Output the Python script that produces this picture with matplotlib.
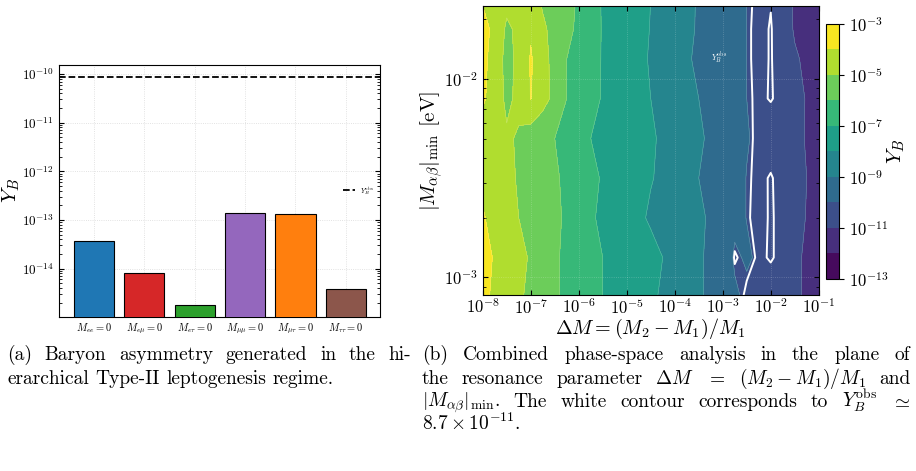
import numpy as np
import matplotlib
matplotlib.use('Agg')
import matplotlib.pyplot as plt

plt.rcParams.update({
    'font.family': 'serif',
    'font.serif': ['cmr10', 'DejaVu Serif'],
    'mathtext.fontset': 'cm',
    'axes.formatter.use_mathtext': True,
    'axes.unicode_minus': False,
})

# (a) bar chart values
bar_labels = [r'$M_{ee}=0$', r'$M_{e\mu}=0$', r'$M_{e\tau}=0$',
              r'$M_{\mu\mu}=0$', r'$M_{\mu\tau}=0$', r'$M_{\tau\tau}=0$']
yb_values = [3.75e-14, 8.3e-15, 1.78e-15, 1.37e-13, 1.33e-13, 3.8e-15]
bar_colors = ['#1f77b4', '#d62728', '#2ca02c', '#9467bd', '#ff7f0e', '#8c564b']
yb_obs = 8.7e-11

# (b) contour map: log10(Y_B)
dm_exp = [-8.0, -7.75, -7.5, -7.25, -7.0, -6.75, -6.5, -6.25, -6.0, -5.75,
          -5.5, -5.25, -5.0, -4.75, -4.5, -4.25, -4.0, -3.75, -3.5, -3.25,
          -3.0, -2.75, -2.5, -2.25, -2.0, -1.75, -1.5, -1.25, -1.0]
m_exp = [-3.1, -2.9, -2.7, -2.5, -2.3, -2.1, -1.9, -1.75, -1.6]
logyb = [
    [-3.8, -4.2, -4.5, -4.9, -5.2, -5.6, -5.9, -6.2, -6.5, -6.8, -7.0, -7.2, -7.4, -7.6, -7.9,
     -8.1, -8.35, -8.6, -8.9, -9.2, -9.6, -9.9, -10.15, -10.2, -10.4, -10.6, -10.85, -11.15, -11.3],
    [-3.7, -4.1, -4.6, -4.8, -5.1, -5.5, -5.9, -6.2, -6.5, -6.8, -7.0, -7.2, -7.4, -7.6, -7.8,
     -8.0, -8.3, -8.6, -8.9, -9.2, -9.6, -10.1, -9.9, -10.15, -10.0, -10.3, -10.85, -11.15, -11.3],
    [-3.9, -4.5, -4.7, -5.0, -5.3, -5.5, -5.8, -6.2, -6.5, -6.9, -7.2, -7.4, -7.7, -7.9, -8.1,
     -8.3, -8.5, -8.7, -8.9, -9.1, -9.4, -9.8, -10.02, -10.2, -10.0, -10.3, -10.7, -11.05, -11.25],
    [-4.3, -4.6, -4.8, -5.1, -5.3, -5.6, -5.9, -6.2, -6.5, -6.8, -7.1, -7.3, -7.5, -7.7, -7.95,
     -8.2, -8.4, -8.7, -9.0, -9.2, -9.5, -9.8, -10.02, -10.15, -10.02, -10.3, -10.8, -11.0, -11.2],
    [-4.3, -4.6, -4.85, -5.15, -5.45, -5.7, -6.0, -6.35, -6.65, -7.0, -7.15, -7.3, -7.5, -7.7, -7.9,
     -8.15, -8.4, -8.65, -8.9, -9.15, -9.45, -9.7, -9.95, -10.2, -10.4, -10.6, -10.85, -11.05, -11.3],
    [-3.9, -4.4, -5.3, -4.6, -3.97, -4.6, -5.4, -6.0, -6.3, -6.7, -7.1, -7.3, -7.5, -7.8, -8.0,
     -8.2, -8.45, -8.8, -9.0, -9.3, -9.5, -9.8, -10.0, -10.15, -10.02, -10.3, -10.6, -11.1, -11.3],
    [-3.8, -4.4, -5.4, -4.6, -3.93, -4.6, -5.5, -6.0, -6.2, -6.6, -7.1, -7.3, -7.5, -7.8, -8.1,
     -8.3, -8.5, -8.9, -9.2, -9.3, -9.5, -9.8, -10.0, -10.2, -10.02, -10.5, -10.9, -11.2, -11.3],
    [-3.7, -4.3, -5.2, -4.7, -4.1, -4.8, -5.5, -5.9, -6.1, -6.5, -7.1, -7.3, -7.5, -7.7, -8.05,
     -8.3, -8.5, -8.85, -9.1, -9.3, -9.5, -9.8, -10.0, -10.2, -10.02, -10.6, -11.1, -11.2, -11.4],
    [-4.1, -4.3, -4.6, -5.1, -4.5, -5.2, -5.5, -5.8, -6.1, -6.6, -7.1, -7.2, -7.4, -7.6, -8.0,
     -8.2, -8.4, -8.8, -9.1, -9.2, -9.5, -9.8, -10.0, -10.15, -10.1, -10.7, -11.1, -11.3, -11.5],
]
cbar_levels = [-13, -12, -11, -10, -9, -8, -7, -6, -5, -4, -3]
cbar_ticks = [-13, -11, -9, -7, -5, -3]
dm_ticks = [1e-8, 1e-7, 1e-6, 1e-5, 1e-4, 1e-3, 1e-2, 1e-1]

W, H = 916, 471
fig = plt.figure(figsize=(W / 100, H / 100), dpi=100)

# ---- (a) bars
ax1 = fig.add_axes([0.064, 0.3276, 0.351, 0.535])
ax1.bar(range(len(yb_values)), yb_values, width=0.8, color=bar_colors,
        edgecolor='black', linewidth=0.8, zorder=3)
ax1.axhline(yb_obs, color='black', ls='--', lw=1.3, label=r'$Y_B^{\rm obs}$', zorder=4)
ax1.set_yscale('log')
ax1.set_ylim(1.03e-15, 1.55e-10)
ax1.set_xlim(-0.7, 5.68)
ax1.set_xticks(range(len(bar_labels)))
ax1.set_xticklabels(bar_labels, fontsize=7.5)
ax1.set_ylabel(r'$Y_B$', fontsize=15)
ax1.yaxis.set_label_coords(-0.114, 0.5)
ax1.tick_params(axis='y', which='both', direction='in', right=True, labelsize=9.5)
ax1.tick_params(axis='x', length=0)
ax1.grid(True, ls=':', color='0.85', lw=0.6, zorder=0)
ax1.legend(loc='center right', fontsize=5, frameon=False, handlelength=1.6)

# ---- (b) contour map
ax2 = fig.add_axes([0.527, 0.373, 0.3668, 0.6143])
X = 10.0 ** np.array(dm_exp)
Y = 10.0 ** np.array(m_exp)
Z = np.array(logyb)
cs = ax2.contourf(X, Y, Z, levels=cbar_levels, cmap='viridis', vmin=-12.75, vmax=-3.4)
ax2.contour(X, Y, Z, levels=cbar_levels, colors='white', linewidths=0.4, alpha=0.3,
            linestyles='solid')
ax2.contour(X, Y, Z, levels=[np.log10(yb_obs)], colors='white', linewidths=1.4,
            linestyles='solid')
ax2.text(10 ** -3.244, 10 ** -1.896, r'$Y_B^{\rm obs}$', color='white', fontsize=6,
         ha='left', va='center')
ax2.set_xscale('log')
ax2.set_yscale('log')
ax2.set_xticks(dm_ticks)
ax2.set_xlim(1e-8, 1e-1)
ax2.set_ylim(10 ** -3.09, 10 ** -1.634)
ax2.set_xlabel(r'$\Delta M = (M_2 - M_1)/M_1$', fontsize=14.5, labelpad=0)
ax2.set_ylabel(r'$|M_{\alpha\beta}|_{\rm min}$ [eV]', fontsize=15)
ax2.yaxis.set_label_coords(-0.112, 0.5)
ax2.tick_params(which='both', direction='in', top=True, right=True, labelsize=12)
ax2.tick_params(axis='x', which='major', pad=1.5)
ax2.grid(True, ls=':', color='white', alpha=0.25, lw=0.6)

cax = fig.add_axes([0.9017, 0.4083, 0.0145, 0.5407])
cb = fig.colorbar(cs, cax=cax, ticks=cbar_ticks)
cb.ax.set_yticklabels([r'$10^{%d}$' % t for t in cbar_ticks], fontsize=12)
cb.set_label(r'$Y_B$', fontsize=15, labelpad=-2)

# ---- captions
renderer = fig.canvas.get_renderer()
cap_fs = 14


def put_line(words, x0, x1, ypx, justify=True):
    texts = [fig.text(0, 1 - ypx / H, w, fontsize=cap_fs, va='baseline', ha='left')
             for w in words]
    widths = [t.get_window_extent(renderer).width for t in texts]
    gap = (x1 - x0 - sum(widths)) / max(len(words) - 1, 1) if justify else 6.5
    x = x0
    for t, w in zip(texts, widths):
        t.set_x(x / W)
        x += w + gap


put_line(['(a)', 'Baryon', 'asymmetry', 'generated', 'in', 'the', 'hi-'], 7, 411, 360)
put_line(['erarchical', 'Type-II', 'leptogenesis', 'regime.'], 7, 411, 383.5, justify=False)
put_line(['(b)', 'Combined', 'phase-space', 'analysis', 'in', 'the', 'plane', 'of'],
         422, 910, 360)
put_line(['the', 'resonance', 'parameter', r'$\Delta M$', r'$=$', r'$(M_2-M_1)/M_1$', 'and'],
         422, 910, 383.5)
put_line([r'$|M_{\alpha\beta}|_{\rm min}$.', 'The', 'white', 'contour', 'corresponds', 'to',
          r'$Y_B^{\rm obs}$', r'$\simeq$'], 422, 910, 407)
put_line([r'$8.7\times10^{-11}$.'], 422, 910, 430.5, justify=False)

fig.savefig('out.png', dpi=100)
